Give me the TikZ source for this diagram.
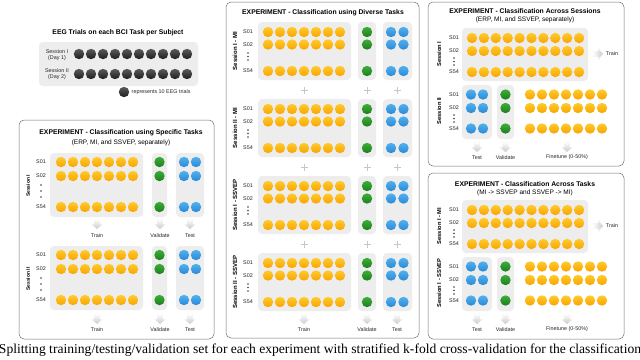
\documentclass[tikz,border=0pt]{standalone}
\usepackage{fontspec}
\setmainfont{Liberation Serif}
\newfontfamily\hv{Liberation Sans}
\definecolor{orT}{HTML}{FFCB2E}
\definecolor{orB}{HTML}{F9A400}
\definecolor{grT}{HTML}{3DAF3A}
\definecolor{grB}{HTML}{1E7C1E}
\definecolor{blT}{HTML}{52B2EE}
\definecolor{blB}{HTML}{2A88D6}
\definecolor{kT}{HTML}{5A5A5A}
\definecolor{kB}{HTML}{1E1E1E}
\tikzset{
  dotbase/.style={circle, inner sep=0pt, minimum size=10.4pt},
  od/.style={dotbase, top color=orT, bottom color=orB},
  gd/.style={dotbase, top color=grT, bottom color=grB},
  bd/.style={dotbase, top color=blT, bottom color=blB},
  kd/.style={dotbase, top color=kT, bottom color=kB},
  panel/.style={draw=black!55, line width=0.5pt, rounded corners=5pt},
  grp/.style={fill=black!7, rounded corners=4pt},
  ttl/.style={font=\hv\bfseries\fontsize{6.8}{8}\selectfont, inner sep=0pt},
  subt/.style={font=\hv\fontsize{6.5}{7.5}\selectfont, inner sep=0pt},
  sm/.style={font=\hv\fontsize{5.4}{6.2}\selectfont, text=black!85, inner sep=0pt},
  sess/.style={font=\hv\bfseries\fontsize{5.7}{6.5}\selectfont, rotate=90, inner sep=0pt},
  plusst/.style={draw=black!22, line width=1pt},
  arrsh/.style={top color=white, bottom color=black!22, draw=black!6, line width=0.2pt},
  rarrsh/.style={left color=white, right color=black!22, draw=black!6, line width=0.2pt},
  vd/.style={circle, fill=black!75, inner sep=0pt, minimum size=1.6pt}
}
% row of dots: style, x0, dx, n, y, name
\newcommand\dotrow[6]{\foreach \i in {1,...,#4}{\node[#1] (#6-\i) at ({#2+#3*(\i-1)},#5) {};}}
% vertical dots: name, x, y0, dy
\newcommand\vdts[4]{\foreach \j in {0,1,2}{\node[vd] (#1-\j) at (#2,{#3+#4*\j}) {};}}
% down arrow centred at x,y
\newcommand\darr[2]{\path[arrsh] (#1-2.8,#2-5) -- (#1+2.8,#2-5) -- (#1+2.8,#2+0.3) -- (#1+5.3,#2+0.3) -- (#1,#2+5.2) -- (#1-5.3,#2+0.3) -- (#1-2.8,#2+0.3) -- cycle;}
\newcommand\rarr[2]{\path[rarrsh] (#1-5,#2-2.8) -- (#1+0.3,#2-2.8) -- (#1+0.3,#2-5.3) -- (#1+5.2,#2) -- (#1+0.3,#2+5.3) -- (#1+0.3,#2+2.8) -- (#1-5,#2+2.8) -- cycle;}
\newcommand\plussign[2]{\draw[plusst] (#1-3.5,#2) -- (#1+3.5,#2) (#1,#2-3.5) -- (#1,#2+3.5);}
% subject labels: prefix, x, y1, y2, y54
\newcommand\subjlab[5]{\node[sm] (#1-s1) at (#2,#3) {S01}; \node[sm] (#1-s2) at (#2,#4) {S02}; \node[sm] (#1-s54) at (#2,#5) {S54};}
\begin{document}
\begin{tikzpicture}[x=1pt,y=-1pt]
\useasboundingbox (0,0) rectangle (640,359);
\fill[white] (0,0) rectangle (640,359);

% ---------------- top-left: EEG trials ----------------
\node[ttl] (eegt) at (118,33) {EEG Trials on each BCI Task per Subject};
\fill[grp] (39,42) rectangle (198,86);
\node[sm, align=center] (s1d) at (57,55) {Session I\\(Day 1)};
\node[sm, align=center] (s2d) at (57,74) {Session II\\(Day 2)};
\dotrow{kd}{79}{12}{10}{54}{k1}
\dotrow{kd}{79}{12}{10}{74}{k2}
\node[kd] (kleg) at (124,92) {};
\node[sm, anchor=west] (legt) at (131.5,92) {represents 10 EEG trials};

% ---------------- left panel ----------------
\draw[panel] (19,120) rectangle (214,339);
\node[ttl] (lt) at (121,133) {EXPERIMENT - Classification using Specific Tasks};
\node[subt] (ls) at (121,142.5) {(ERP, MI, and SSVEP, separately)};
\foreach \t/\nm/\lab in {153/la/Session I, 246/lb/Session II}{
  \fill[grp] (50,\t) rectangle (143,\t+64);
  \fill[grp] (152,\t) rectangle (167,\t+64);
  \fill[grp] (176,\t) rectangle (204,\t+64);
  \dotrow{od}{61}{12}{7}{\t+9}{\nm o1}
  \dotrow{od}{61}{12}{7}{\t+23}{\nm o2}
  \dotrow{od}{61}{12}{7}{\t+54}{\nm o3}
  \node[gd] (\nm g1) at (159.5,\t+9) {};
  \node[gd] (\nm g2) at (159.5,\t+23) {};
  \node[gd] (\nm g3) at (159.5,\t+54) {};
  \dotrow{bd}{184}{12}{2}{\t+9}{\nm b1}
  \dotrow{bd}{184}{12}{2}{\t+23}{\nm b2}
  \dotrow{bd}{184}{12}{2}{\t+54}{\nm b3}
  \subjlab{\nm}{41}{\t+9}{\t+23}{\t+54}
  \vdts{\nm v}{41}{\t+32}{6}
  \node[sess, font=\hv\bfseries\fontsize{5}{6}\selectfont] (\nm ses) at (28,\t+33) {\lab};
}
\foreach \y/\ly/\nm in {224/236/ar1, 319/330/ar2}{
  \darr{97}{\y} \darr{160}{\y} \darr{190}{\y}
  \node[sm] (\nm tr) at (97,\ly) {Train};
  \node[sm] (\nm va) at (160,\ly) {Validate};
  \node[sm] (\nm te) at (190,\ly) {Test};
}

% ---------------- middle panel ----------------
\draw[panel] (226,2) rectangle (419,338);
\node[ttl] (mt) at (323,13) {EXPERIMENT - Classification using Diverse Tasks};
\foreach \t/\nm/\lab in {22/ma/Session I - MI, 99/mb/Session II - MI, 176/mc/Session I - SSVEP, 253/md/Session II - SSVEP}{
  \fill[grp] (258,\t) rectangle (351,\t+58);
  \fill[grp] (358,\t) rectangle (376,\t+58);
  \fill[grp] (383,\t) rectangle (412,\t+58);
  \dotrow{od}{268}{12}{7}{\t+10}{\nm o1}
  \dotrow{od}{268}{12}{7}{\t+22.5}{\nm o2}
  \dotrow{od}{268}{12}{7}{\t+49}{\nm o3}
  \node[gd] (\nm g1) at (367,\t+10) {};
  \node[gd] (\nm g2) at (367,\t+22.5) {};
  \node[gd] (\nm g3) at (367,\t+49) {};
  \dotrow{bd}{391}{12.5}{2}{\t+10}{\nm b1}
  \dotrow{bd}{391}{12.5}{2}{\t+22.5}{\nm b2}
  \dotrow{bd}{391}{12.5}{2}{\t+49}{\nm b3}
  \subjlab{\nm}{248}{\t+10}{\t+22.5}{\t+49}
  \vdts{\nm v}{248}{\t+31}{3.5}
  \node[sess, font=\hv\bfseries\fontsize{6}{7}\selectfont] (\nm ses) at (235,\t+29) {\lab};
}
\foreach \y in {90,167,244}{\plussign{304}{\y} \plussign{367}{\y} \plussign{397}{\y}}
\darr{304}{319} \darr{367}{319} \darr{397}{319}
\node[sm] (mtr) at (304,330) {Train};
\node[sm] (mva) at (367,330) {Validate};
\node[sm] (mte) at (397,330) {Test};

% ---------------- right top panel ----------------
\draw[panel] (428,2) rectangle (624,166);
\node[ttl] (rt) at (525,11) {EXPERIMENT - Classification Across Sessions};
\node[subt] (rs) at (525,19.5) {(ERP, MI, and SSVEP, separately)};
% ---------------- right bottom panel ----------------
\draw[panel] (428,173) rectangle (624,339);
\node[ttl] (qt) at (525,184) {EXPERIMENT - Classification Across Tasks};
\node[subt] (qs) at (525,193) {(MI -> SSVEP and SSVEP -> MI)};

\foreach \t/\u/\nm/\laba/\labb in {28/85/ra/Session I/Session II, 200/257/qa/Session I - MI/Session I - SSVEP}{
  \fill[grp] (462,\t) rectangle (588,\t+53);
  \dotrow{od}{472}{11.9}{10}{\t+10}{\nm o1}
  \dotrow{od}{472}{11.9}{10}{\t+23}{\nm o2}
  \dotrow{od}{472}{11.9}{10}{\t+44}{\nm o3}
  \subjlab{\nm}{454}{\t+10}{\t+23}{\t+44}
  \vdts{\nm v}{454}{\t+30}{3.5}
  \node[sess] (\nm ses) at (439,\t+26) {\laba};
  \rarr{598}{\t+26}
  \node[sm] (\nm trn) at (612,\t+26) {Train};
  % session II / second block
  \fill[grp] (462,\u) rectangle (492,\u+54);
  \fill[grp] (497,\u) rectangle (514,\u+54);
  \dotrow{bd}{471}{12}{2}{\u+9.5}{\nm b1}
  \dotrow{bd}{471}{12}{2}{\u+23}{\nm b2}
  \dotrow{bd}{471}{12}{2}{\u+43.5}{\nm b3}
  \node[gd] (\nm g1) at (505.5,\u+9.5) {};
  \node[gd] (\nm g2) at (505.5,\u+23) {};
  \node[gd] (\nm g3) at (505.5,\u+43.5) {};
  \dotrow{od}{530}{12}{7}{\u+9.5}{\nm f1}
  \dotrow{od}{530}{12}{7}{\u+23}{\nm f2}
  \dotrow{od}{530}{12}{7}{\u+43.5}{\nm f3}
  \subjlab{\nm x}{454}{\u+9.5}{\u+23}{\u+43.5}
  \vdts{\nm w}{454}{\u+30}{3.5}
  \node[sess] (\nm sesb) at (439,\u+26) {\labb};
  \darr{477}{\u+62} \darr{505.5}{\u+62} \darr{567}{\u+62}
  \node[sm] (\nm te) at (477,\u+72.5) {Test};
  \node[sm] (\nm va) at (505.5,\u+72.5) {Validate};
  \node[sm] (\nm fi) at (567,\u+72.5) {Finetune (0-50\%)};
}

% ---------------- caption ----------------
\node[font=\fontsize{13.6}{15}\selectfont, inner sep=0pt] (cap) at (320,350.5) {Splitting training/testing/validation set for each experiment with stratified k-fold cross-validation for the classification};
\end{tikzpicture}
\end{document}
